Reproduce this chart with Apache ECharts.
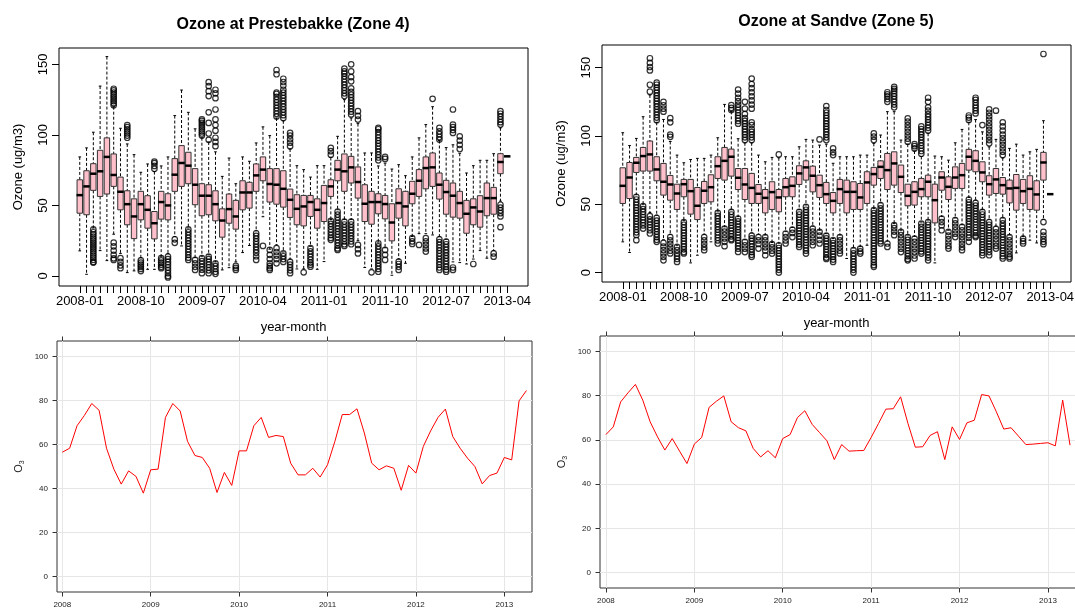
<!DOCTYPE html>
<html>
<head>
<meta charset="utf-8">
<title>Ozone at Prestebakke and Sandve</title>
<script src="https://cdn.jsdelivr.net/npm/echarts@6/dist/echarts.min.js"></script>
<style>
    html, body { margin: 0; padding: 0; background: #fff; }
    #main { width: 1075px; height: 610px; }
</style>
</head>
<body>
<div id="main"></div>
<script>
// 月份 (x 轴类目)
var months = [
    '2008-01', '2008-02', '2008-03', '2008-04', '2008-05', '2008-06', '2008-07', '2008-08', '2008-09', '2008-10', '2008-11', '2008-12',
    '2009-01', '2009-02', '2009-03', '2009-04', '2009-05', '2009-06', '2009-07', '2009-08', '2009-09', '2009-10', '2009-11', '2009-12',
    '2010-01', '2010-02', '2010-03', '2010-04', '2010-05', '2010-06', '2010-07', '2010-08', '2010-09', '2010-10', '2010-11', '2010-12',
    '2011-01', '2011-02', '2011-03', '2011-04', '2011-05', '2011-06', '2011-07', '2011-08', '2011-09', '2011-10', '2011-11', '2011-12',
    '2012-01', '2012-02', '2012-03', '2012-04', '2012-05', '2012-06', '2012-07', '2012-08', '2012-09', '2012-10', '2012-11', '2012-12',
    '2013-01', '2013-02', '2013-03', '2013-04'
];
var labelMonths = ['2008-01', '2008-10', '2009-07', '2010-04', '2011-01', '2011-10', '2012-07', '2013-04'];
var years = [2008, 2009, 2010, 2011, 2012, 2013];
var boxTicks = [0, 50, 100, 150];
var lineTicks = [0, 20, 40, 60, 80, 100];

// 箱线图: [下须, Q1, 中位数, Q3, 上须]
var prestebakkeBox = [
    [17.8, 44.5, 57.3, 68.2, 84.4], [1.2, 43.4, 63.5, 74.6, 90.8], [34, 60.7, 72.5, 79.6, 101.9], [18, 56.4, 74.2, 89.1, 134.6],
    [10.9, 58.1, 84.4, 97.9, 155.5], [29.6, 63.5, 71.6, 86.5, 120], [16, 46.9, 59.7, 70.1, 104.7], [2.4, 36.3, 50.9, 60.4, 93.6],
    [3.6, 26.5, 42.2, 54.7, 86], [13, 39.8, 50.9, 60, 73.5], [4.7, 33.9, 46.9, 56.9, 79.4], [4.7, 26.3, 37.4, 45.7, 74],
    [14, 40.3, 52.4, 60, 78], [16, 39.8, 50, 58.3, 84.4], [28, 60, 71.8, 83.2, 113.7], [21.3, 63.5, 80.1, 92.4, 131.8],
    [34, 65.4, 78.2, 87.7, 116], [13, 50.5, 64.7, 76.1, 104.3], [14, 42.7, 56.9, 65.4, 98], [15, 43.4, 56.9, 64.7, 95],
    [10, 39.1, 50.9, 60.4, 88], [4.3, 27.5, 39.3, 47.6, 70.6], [5.9, 37.4, 47.4, 58.1, 83.6], [10, 33.2, 42.2, 53.6, 65.4],
    [16.6, 46.9, 59.2, 67.5, 84.4], [21.6, 48.1, 59.2, 66.4, 81.3], [32, 60, 71.3, 79.4, 94.3], [42, 67.5, 75.4, 84.4, 105.7],
    [19, 52.4, 65.2, 76.1, 99.5], [22, 50.9, 64.7, 76.1, 112], [17, 48.8, 61.8, 74.6, 110], [12, 41.5, 54, 61.6, 90],
    [5, 36.3, 47.6, 57.6, 78.2], [5, 35.5, 49.3, 57.1, 75.4], [21, 42.2, 52.4, 57.1, 70.1], [4.7, 33.9, 46.9, 54.7, 78.2],
    [10.2, 38.6, 51.7, 64.2, 78.2], [40, 56.4, 63.5, 68.2, 84], [47, 67.5, 75.4, 82, 99], [40, 60, 74.2, 86.5, 125],
    [40, 65.9, 77, 84.8, 112], [25, 55.2, 66.6, 77.3, 108], [6, 38.6, 51.2, 64.7, 87.2], [5, 36.7, 52.4, 60, 87.2],
    [24, 44.1, 52.4, 58.3, 78], [20, 40.5, 51, 57.1, 80], [0.5, 24.9, 37.9, 51.2, 75.8], [12, 41, 51.7, 61.8, 78.9],
    [9, 35.5, 49.3, 60, 71.1], [28, 51.2, 58.3, 67.1, 84.4], [30, 56.4, 67.5, 75.4, 97.9], [30, 61.8, 76.5, 84.4, 107.3],
    [29.1, 63.5, 77, 87.2, 120], [28, 54.5, 64.7, 73, 96], [26, 43.8, 59.5, 67.8, 91], [10, 41.7, 56.9, 65.9, 93],
    [9.5, 41, 51.7, 60, 87], [8.5, 30.3, 44.1, 53.6, 73], [12, 36.3, 48.6, 54.7, 78.2], [18, 34.6, 45.7, 56.9, 82],
    [12.6, 42.7, 55.2, 65.9, 82], [18, 43.8, 55.2, 62.8, 86.7], [53, 72.5, 80.8, 86.7, 105], [84.8, 84.8, 84.8, 84.8, 84.8]
];

// 离群点: [月份序号, [数值...]]
var prestebakkeOutliers = [
    [2, [33, 31, 29.5, 28, 26.5, 25, 23.5, 22, 20.5, 19, 17.5, 16, 14.5, 13, 11.5, 10, 9.5]],
    [5, [121, 122.5, 124, 125.5, 127, 128.5, 130, 131.5, 132.7, 23.7, 21, 18, 15, 12.5, 11.4]],
    [6, [12.6, 10, 7.5, 5.5]],
    [7, [98, 99.5, 101, 102.5, 104, 105.5, 107]],
    [9, [11, 9.5, 8, 6.5, 5, 3.5]],
    [11, [76, 78, 80, 81]],
    [12, [12.6, 11, 9.5, 8, 6.5, 5.5]],
    [13, [13.7, 12, 10, 8, 6, 4, 2, 0, -1]],
    [14, [26, 23.5]],
    [16, [33, 31, 29, 27, 25, 23, 21, 19, 17, 15, 13, 11.4]],
    [17, [11.4, 9, 6.5, 4.3]],
    [18, [99.5, 101, 102.5, 104, 105.5, 107, 108.5, 110, 111, 12.6, 10.5, 8.5, 6.5, 4.5, 2]],
    [19, [96.5, 101, 108.5, 116, 127.5, 131, 134.6, 137.4, 13.7, 12, 10, 8, 6, 4, 2]],
    [20, [92, 95, 98, 103, 107, 111, 118, 126, 129.5, 132, 9, 7, 5, 3, 1.5]],
    [23, [7.1, 5.7, 4.3]],
    [26, [30.3, 28.5, 26.5, 24.5, 22.5, 20.5, 18.5, 16.5, 14, 11.4]],
    [27, [21.3]],
    [28, [18.5, 15, 12, 9, 7, 5.5, 4.3]],
    [29, [113, 115, 117, 119, 121, 123, 125, 127, 129, 130, 143, 146, 19.7, 17, 14.5, 12, 9]],
    [30, [112, 114, 116, 118, 120, 122, 124, 126, 128, 130, 132, 135, 137.5, 139.8, 16, 14, 12, 10]],
    [31, [92, 94.5, 97, 99.5, 101.4, 10, 8, 6, 4, 2]],
    [33, [2.6]],
    [34, [19.7, 17.5, 15.5, 13.5, 11.5, 9.5, 8, 6.6]],
    [37, [86, 88.5, 90.8, 39, 37, 35, 33, 31, 29, 27, 25.6]],
    [38, [45.7, 43.5, 41.5, 39.5, 37.5, 35.5, 33.5, 31.5, 29.5, 27.5, 25.5, 23.5, 21.5, 19.5, 18.5]],
    [39, [127.5, 129.5, 131.5, 133.5, 135.5, 137.5, 139.5, 141.5, 143.5, 145, 147, 38.6, 36.5, 34.5, 32.5, 30.5, 28.5, 26.5, 24.5, 22.5, 21.3]],
    [40, [114.5, 116.5, 118.5, 120.5, 122.5, 124.5, 126.5, 128.5, 130.5, 133, 138, 141, 145, 150, 38.6, 36.5, 34.5, 32.5, 30.5, 28.5, 26.5, 24.5, 22.5]],
    [41, [110.9, 113.5, 116.8, 22, 19, 16]],
    [43, [2.6]],
    [44, [82, 84, 86, 88, 90, 92, 94, 96, 98, 100, 102, 104, 105, 23.2, 21, 19, 17, 15, 13, 11, 9, 7, 5, 3]],
    [45, [83, 84.4, 18.5, 15, 11.4]],
    [47, [10.2, 8.5, 6.5, 4.3]],
    [49, [26.8, 24.5, 22.7]],
    [50, [22]],
    [51, [26.8, 24.5, 22, 19.5, 17.3]],
    [52, [125.6]],
    [53, [96.7, 98.5, 100.5, 102.5, 105, 26, 24, 22, 20, 18, 16, 14, 12, 10, 8, 6, 4.3]],
    [54, [24.4, 22.5, 20.5, 18.5, 16.5, 14.5, 12.5, 10.5, 8.5, 6.5, 4.5, 3]],
    [55, [101.4, 103.5, 105.5, 107.3, 118, 6, 4.3]],
    [56, [90, 93, 96, 99]],
    [58, [8.5]],
    [61, [16, 13.7]],
    [62, [107.3, 109, 111, 113, 115, 116.8, 50.5, 48.5, 46.5, 44.5, 42.2, 34.6]]
];

var sandveBox = [
    [22.5, 50.6, 63.5, 76.7, 102.4], [14.7, 54.2, 69.6, 80.6, 93], [57, 73.3, 80.4, 84.3, 98.2], [50, 74.3, 85.3, 91.6, 114.1],
    [44, 74.3, 86.5, 96.3, 130], [42, 67.2, 75.5, 84.8, 110], [24, 56.7, 66.5, 79.9, 112.1], [28, 53, 64.5, 71.1, 96],
    [20, 46.2, 57.9, 64.7, 86], [38, 55.5, 64.7, 68.2, 80.4], [7.1, 42.8, 59.6, 68.2, 82.8], [12.7, 38.8, 48.9, 62.3, 83.6],
    [28, 50.6, 59.9, 66.7, 83.6], [22.5, 51.8, 62.5, 71.6, 86], [45, 68.9, 77.9, 84.8, 98.7], [33.5, 67.7, 81.8, 91.6, 123.1],
    [46, 70.6, 84.8, 90.4, 118], [41, 60.8, 69.4, 76.2, 98], [24, 53.5, 64.5, 76.2, 95], [29, 50.6, 62, 72.6, 95],
    [28, 50.6, 57.7, 64.5, 86], [27.5, 43.7, 54.7, 60.8, 81.1], [22, 46.2, 58.9, 66.5, 84.3], [21.5, 44.5, 55, 60.8, 84],
    [30, 55.5, 62.5, 68.9, 84.8], [33, 55.5, 63.5, 70.1, 84.8], [46, 64.5, 72.6, 78.2, 92.1], [49.5, 67.7, 77, 81.8, 97.5],
    [34, 59.1, 70.9, 77.9, 97], [31, 55, 64, 71.3, 93.3], [28.5, 50.6, 57.4, 66, 94], [25, 43.7, 52.5, 58.6, 80],
    [27.5, 50.6, 61.1, 68.2, 84.8], [10.3, 43.7, 59.1, 67.7, 84.8], [18, 46.2, 59.1, 66.5, 84.8], [19, 46.2, 55, 65.2, 86],
    [20, 50.6, 66, 73.8, 86], [47, 64, 72.1, 77, 94.6], [51, 68.9, 77.4, 81.8, 100.7], [23, 60.8, 75, 87.2, 117.8],
    [36, 64, 79.9, 88.4, 117.8], [31, 58.6, 70.1, 78.7, 97], [27.5, 48.9, 56.2, 64.7, 94], [26.5, 49.4, 59.1, 66.5, 89],
    [37, 55.5, 61.1, 68.9, 85], [38.5, 55.5, 66.5, 71.3, 102], [7.1, 36.4, 53, 64.7, 85.3], [41, 60.3, 69.6, 73.8, 84.8],
    [31, 53.5, 62.8, 70.1, 82.3], [40, 61.6, 69.6, 77.4, 95], [35, 61.6, 71.3, 79.9, 104.8], [55, 75, 84.8, 90.2, 110],
    [53, 73.8, 81.8, 89.2, 112], [46, 66.5, 73.3, 81.1, 103], [39, 56.7, 64.7, 70.9, 92], [34, 57.9, 68.2, 76.2, 97.5],
    [40, 57.4, 64, 69.6, 84], [27.5, 51, 61.6, 67.7, 90.9], [14.4, 45.7, 62, 71.8, 94], [26.5, 50.6, 59.6, 68.2, 86],
    [23.7, 46.2, 61.3, 70.9, 88.4], [21.7, 45.7, 57.2, 67.2, 90.2], [39, 67.7, 80.6, 88, 111.2], [57.4, 57.4, 57.4, 57.4, 57.4]
];

var sandveOutliers = [
    [2, [55.5, 53.5, 51.5, 49.5, 47.5, 45.5, 43.5, 41.5, 39.5, 37.5, 35.5, 33.5, 31.5, 29.5, 27.5, 23.7]],
    [3, [48.6, 46.5, 44.5, 42.5, 40.5, 38.5, 36.5, 34.5, 32.2]],
    [4, [132.4, 137.5, 148, 150.5, 153.5, 156.9, 41.3, 39, 37, 35, 33, 31, 28.6]],
    [5, [111.5, 113.5, 115.5, 117.5, 119.5, 121.5, 123.5, 125.5, 127.5, 129.5, 131.5, 133.5, 135.5, 137.5, 139, 40, 38, 36, 34, 32, 30, 28, 26, 24, 22.5]],
    [6, [117.8, 120, 122.5, 125, 21.7, 19, 16.5, 14, 11.5, 9]],
    [7, [99.4, 101, 110, 113, 26, 23.5, 21, 18.5, 16, 14]],
    [8, [18.8, 16.5, 14, 12, 10, 7.8]],
    [9, [37, 35, 33, 31, 29, 27, 25, 23, 21, 19, 17, 15, 14]],
    [12, [26, 23.5, 21, 18.5, 16.4]],
    [14, [43.7, 41.5, 39.5, 37.5, 35.5, 33.5, 31.5, 29.5, 27.5, 25.5, 23.5, 21.3]],
    [15, [32.2, 30, 27.5, 25, 22.5, 19.3]],
    [16, [119, 120.5, 122.6, 44.5, 42.5, 40.5, 38.5, 36.5, 34.5, 32.5, 30.5, 28.5, 26.5, 24.5, 23.7]],
    [17, [109, 111, 113, 115, 117, 119, 121, 123, 125.5, 128, 131, 134, 39.6, 37.5, 35.5, 33.5, 31.5, 29.5, 27.5, 25.5, 23.5, 21.5, 19.5, 17.5, 15.1]],
    [18, [97, 99, 101, 103, 105, 107, 109, 111, 113, 116, 120, 125, 22.5, 20, 17.5, 15]],
    [19, [97, 99, 101, 103, 105, 108, 110, 120, 123, 126, 129, 132, 135, 138, 142, 27, 25, 23, 21, 19, 17, 15, 13, 11.5]],
    [20, [26, 23.5, 21, 17.6]],
    [21, [26, 23.5, 21, 18.5, 16, 12.7]],
    [22, [20.8, 18.5, 16, 13.9]],
    [23, [86.5, 20, 18, 16, 14, 12, 10, 8, 6, 4, 2, 0]],
    [24, [28.6, 26, 23.5, 21.3]],
    [25, [31.5, 29, 26]],
    [26, [44.5, 42.5, 40.5, 38.5, 36.5, 34.5, 32.5, 30.5, 28.5, 26.5, 24.5, 22.5, 20.5, 18.8]],
    [27, [48.1, 46, 44, 42, 40, 38, 36, 34, 32, 30, 28, 26, 24, 22, 20, 18, 16, 13.9]],
    [28, [32.2, 30, 27.5, 25, 22.5, 20]],
    [29, [97.5, 29.8, 27, 24, 21.3]],
    [30, [97, 99, 101, 103, 105, 107, 109, 111, 113, 115, 117, 119, 121.9, 27, 25, 23, 21, 19, 17, 15, 13, 11, 10]],
    [31, [86, 88, 90.9, 23.7, 21.5, 19.5, 17.5, 15.5, 13.5, 11.5, 9.5, 7.8]],
    [32, [26, 23.5, 21, 18.5, 16, 14]],
    [34, [16.4, 14, 12, 10, 8, 6, 4, 2, 0]],
    [35, [17.6, 15.5, 13.9]],
    [37, [97, 99.5, 101.9, 45.7, 43.5, 41.5, 39.5, 37.5, 35.5, 33.5, 31.5, 29.5, 27.5, 25.5, 23.5, 21.5, 19.5, 17.5, 15.5, 13.5, 11.5, 9.5, 7.5, 5.5, 4.2]],
    [38, [49.4, 47, 45, 43, 41, 39, 37, 35, 33, 31, 29, 27, 25, 23, 21.3]],
    [39, [125, 127, 129, 130.5, 132, 21.3, 18.8]],
    [40, [121, 123, 125, 127, 129, 131, 133, 134.5, 136, 34.7, 32.5, 30, 27.4]],
    [41, [29.8, 27.5, 25, 22.5, 20, 17.5, 15]],
    [42, [95.8, 98, 100.5, 103, 105.5, 108, 110.5, 112.9, 26, 24, 22, 20, 18, 16, 14, 12, 10, 9]],
    [43, [90.9, 92.5, 94, 24.9, 22.5, 20, 17.5, 15, 12.5, 10.3]],
    [44, [87, 89, 91, 93, 95, 97, 99, 101, 103, 105, 107, 35.9, 33.5, 31.5, 29.5, 27.5, 25.5, 23.5, 21.5, 19.5, 17.5, 15.5, 13.9]],
    [45, [104, 106, 108, 110, 112, 114, 116, 118.5, 121, 125, 128, 37, 35, 33, 31, 29, 27, 25, 23, 21, 19, 17, 15, 13, 11, 9]],
    [47, [39.6, 37, 34.5, 31]],
    [48, [29.8, 27, 24.5, 22, 19.5, 17.6]],
    [49, [38.4, 36, 33.5, 31, 28.5, 26]],
    [50, [33.5, 31, 28.5, 26, 23.5, 21, 18.5, 16.4]],
    [51, [111.7, 113.5, 115, 53.5, 51.5, 49.5, 47.5, 45.5, 43.5, 41.5, 39.5, 37.5, 35.5, 33.5, 31.5, 29.5, 27.5, 25.5, 22.5]],
    [52, [116.5, 118.5, 120.5, 122.5, 124.5, 126.5, 128, 51, 49, 47, 45, 43, 41, 39, 37, 35, 33, 31, 29, 27, 26]],
    [53, [108, 44.5, 42.5, 40.5, 38.5, 36.5, 34.5, 32.5, 30.5, 28.5, 26.5, 24.5, 22.5, 20.5, 18.5, 16.5, 14.5, 12.7]],
    [54, [94.6, 97, 99.5, 102, 104.5, 107, 109.5, 112, 114.5, 117, 119.5, 37, 35, 33, 31, 29, 27, 25, 23, 21, 19, 17, 15, 12.7]],
    [55, [118.5, 32, 29.5, 27, 24.5, 22, 19.5, 17.6]],
    [56, [86, 88.5, 91, 93.5, 96, 98.5, 101, 104, 107, 110, 38.4, 36, 34, 32, 30, 28, 26, 24, 22, 20, 18, 16, 14, 12, 10.3]],
    [57, [26, 23.5, 21, 18.5, 16, 13.5, 11.5, 10.3]],
    [59, [24.9, 23, 21.3]],
    [62, [160, 37, 29.8, 27, 24.5, 22.5, 20.8]]
];

// 月平均值 (下方折线图)
var prestebakkeMean = [
    56.5, 58.3, 68.5, 73.2, 78.6, 75.5, 58.3, 48.8, 42, 48, 45.5, 37.9,
    48.5, 48.8, 72.3, 78.6, 75.2, 61.4, 55, 54.1, 49.2, 38.2, 47.3, 41.4,
    57.1, 57.1, 68.5, 72.3, 63.2, 64.1, 63.6, 51.5, 46.2, 46.2, 49.2, 45.2,
    50.8, 61.4, 73.6, 73.6, 76.2, 65.2, 51.5, 48.5, 50.3, 49.2, 39.2, 50.5,
    47, 59.1, 66.2, 72.3, 76.1, 63.6, 58.3, 53.8, 50, 42.1, 45.9, 47,
    54.1, 53, 79.8, 84.5
];
var sandveMean = [
    62.4, 65.9, 77.2, 81.3, 85.1, 78, 68.2, 61.4, 55.4, 60.6, 54.9, 49.3,
    58.1, 61.1, 74.7, 77.5, 79.9, 68.2, 65.5, 64.1, 56.1, 52.3, 55.1, 51.9,
    60.6, 62.4, 70.1, 73.2, 67, 63.3, 59.6, 51.1, 57.9, 54.9, 55.1, 55.2,
    61.1, 67.4, 73.9, 74.1, 79.5, 67.4, 56.7, 56.9, 62, 63.7, 51.1, 65.9,
    60.2, 67.7, 68.9, 80.5, 79.9, 72.7, 64.9, 65.5, 61.7, 57.9, 58.1, 58.4,
    58.7, 57.3, 78, 57.6
];

// 数据转换
function boxRows(stats) {
    return stats.map(function (s, i) { return [i + 1].concat(s); });
}
function outlierPoints(list) {
    var pts = [];
    list.forEach(function (o) {
        o[1].forEach(function (v) { pts.push([o[0] + 1, v]); });
    });
    return pts;
}
function meanPoints(vals) {
    return vals.map(function (v, i) {
        var p = months[i].split('-');
        return [+p[0] + (+p[1] - 1) / 12, v];
    });
}

// R 风格箱线图
function renderBox(params, api) {
    var x = api.value(0);
    var lo = api.coord([x, api.value(1)]);
    var q1 = api.coord([x, api.value(2)]);
    var md = api.coord([x, api.value(3)]);
    var q3 = api.coord([x, api.value(4)]);
    var hi = api.coord([x, api.value(5)]);
    var w = api.size([0.8, 0])[0];
    var cx = md[0];
    var dash = { stroke: '#000', lineWidth: 1, lineDash: [3, 2] };
    var solid = { stroke: '#000', lineWidth: 1 };
    return {
        type: 'group',
        children: [
            { type: 'line', shape: { x1: cx, y1: hi[1], x2: cx, y2: q3[1] }, style: dash },
            { type: 'line', shape: { x1: cx, y1: q1[1], x2: cx, y2: lo[1] }, style: dash },
            { type: 'line', shape: { x1: cx - w / 4, y1: hi[1], x2: cx + w / 4, y2: hi[1] }, style: solid },
            { type: 'line', shape: { x1: cx - w / 4, y1: lo[1], x2: cx + w / 4, y2: lo[1] }, style: solid },
            { type: 'rect', shape: { x: cx - w / 2, y: q3[1], width: w, height: q1[1] - q3[1] },
              style: { fill: '#ffc0cb', stroke: '#333', lineWidth: 1 } },
            { type: 'line', shape: { x1: cx - w / 2 - 0.5, y1: md[1], x2: cx + w / 2 + 0.5, y2: md[1] },
              style: { stroke: '#000', lineWidth: 2.5 } }
        ]
    };
}

var tickIndex = months.map(function (m, i) { return i + 1; });
var labelIndex = labelMonths.map(function (m) { return months.indexOf(m) + 1; });

function boxXAxis(grid) {
    return {
        type: 'value', gridIndex: grid, min: -2.06, max: 67.06,
        name: 'year-month', nameLocation: 'middle', nameGap: 35,
        nameTextStyle: { fontSize: 13, color: '#000' },
        axisLine: { show: false, onZero: false },
        axisTick: { customValues: tickIndex, length: 7, lineStyle: { color: '#000' } },
        axisLabel: {
            customValues: labelIndex, fontSize: 13, color: '#000', margin: 9,
            formatter: function (v) { return months[Math.round(v) - 1]; }
        },
        splitLine: { show: false }
    };
}
function boxYAxis(grid, min, max) {
    return {
        type: 'value', gridIndex: grid, min: min, max: max,
        name: 'Ozone (ug/m3)', nameLocation: 'middle', nameGap: 34,
        nameTextStyle: { fontSize: 13, color: '#000' },
        axisLine: { show: false, onZero: false },
        axisTick: { customValues: boxTicks, length: 7, lineStyle: { color: '#000' } },
        axisLabel: { customValues: boxTicks, fontSize: 13, color: '#000', rotate: 90, margin: 9 },
        splitLine: { show: false }
    };
}
function lineXAxis(grid, min, max, pos) {
    return {
        type: 'value', gridIndex: grid, min: min, max: max, position: pos,
        axisLine: { show: false, onZero: false },
        axisTick: { customValues: years, length: 4.5, lineStyle: { color: '#333' } },
        axisLabel: {
            show: pos === 'bottom', customValues: years, fontSize: 8, color: '#222', margin: 9,
            formatter: function (v) { return String(Math.round(v)); }
        },
        splitLine: { show: pos === 'bottom', lineStyle: { color: '#e6e6e6', width: 1 } }
    };
}
function lineYAxis(grid) {
    return {
        type: 'value', gridIndex: grid, min: -7, max: 107,
        name: '{o|O}{s|3}', nameLocation: 'middle', nameGap: 31,
        nameTextStyle: {
            color: '#222',
            rich: { o: { fontSize: 11, color: '#222' }, s: { fontSize: 7, color: '#222', padding: [7, 0, 0, 0] } }
        },
        axisLine: { show: false, onZero: false },
        axisTick: { customValues: lineTicks, length: 4.5, lineStyle: { color: '#333' } },
        axisLabel: { customValues: lineTicks, fontSize: 8, color: '#222', margin: 9 },
        splitLine: { show: true, lineStyle: { color: '#e6e6e6', width: 1 } }
    };
}

var chart = echarts.init(document.getElementById('main'));

var option = {
    animation: false,
    backgroundColor: '#fff',
    textStyle: { fontFamily: 'Liberation Sans' },
    graphic: [
        { type: 'text', x: 293, y: 25, style: { text: 'Ozone at Prestebakke (Zone 4)', align: 'center', verticalAlign: 'middle',
          fontSize: 16, fontWeight: 'bold', fontFamily: 'Liberation Sans', fill: '#000' } },
        { type: 'text', x: 836, y: 22, style: { text: 'Ozone at Sandve (Zone 5)', align: 'center', verticalAlign: 'middle',
          fontSize: 16, fontWeight: 'bold', fontFamily: 'Liberation Sans', fill: '#000' } }
    ],
    grid: [
        { left: 59, top: 48, width: 469, height: 238, show: true, borderColor: '#000', borderWidth: 1, outerBoundsMode: 'none' },
        { left: 602, top: 45, width: 469, height: 237, show: true, borderColor: '#000', borderWidth: 1, outerBoundsMode: 'none' },
        { left: 57, top: 341, width: 475, height: 251, show: true, borderColor: '#333', borderWidth: 1, outerBoundsMode: 'none' },
        { left: 600, top: 336, width: 478, height: 252, show: true, borderColor: '#333', borderWidth: 1, outerBoundsMode: 'none' }
    ],
    xAxis: [
        boxXAxis(0),
        boxXAxis(1),
        lineXAxis(2, 2007.94, 2013.313, 'bottom'),
        lineXAxis(3, 2007.933, 2013.34, 'bottom'),
        lineXAxis(2, 2007.94, 2013.313, 'top'),
        lineXAxis(3, 2007.933, 2013.34, 'top')
    ],
    yAxis: [
        boxYAxis(0, -7.1, 161.6),
        boxYAxis(1, -6.9, 166.6),
        lineYAxis(2),
        lineYAxis(3)
    ],
    series: [
        {
            name: 'Prestebakke', type: 'custom', xAxisIndex: 0, yAxisIndex: 0,
            renderItem: renderBox, data: boxRows(prestebakkeBox), z: 3
        },
        {
            name: 'Prestebakke outliers', type: 'scatter', xAxisIndex: 0, yAxisIndex: 0,
            symbol: 'circle', symbolSize: 5.5,
            itemStyle: { color: 'rgba(0,0,0,0)', borderColor: '#000', borderWidth: 1.2 },
            data: outlierPoints(prestebakkeOutliers), z: 2
        },
        {
            name: 'Sandve', type: 'custom', xAxisIndex: 1, yAxisIndex: 1,
            renderItem: renderBox, data: boxRows(sandveBox), z: 3
        },
        {
            name: 'Sandve outliers', type: 'scatter', xAxisIndex: 1, yAxisIndex: 1,
            symbol: 'circle', symbolSize: 5.5,
            itemStyle: { color: 'rgba(0,0,0,0)', borderColor: '#000', borderWidth: 1.2 },
            data: outlierPoints(sandveOutliers), z: 2
        },
        {
            name: 'Prestebakke mean', type: 'line', xAxisIndex: 2, yAxisIndex: 2,
            showSymbol: false, lineStyle: { color: '#ff0000', width: 1 },
            data: meanPoints(prestebakkeMean)
        },
        {
            name: 'Sandve mean', type: 'line', xAxisIndex: 3, yAxisIndex: 3,
            showSymbol: false, lineStyle: { color: '#ff0000', width: 1 },
            data: meanPoints(sandveMean)
        }
    ]
};

chart.setOption(option);
</script>
</body>
</html>
